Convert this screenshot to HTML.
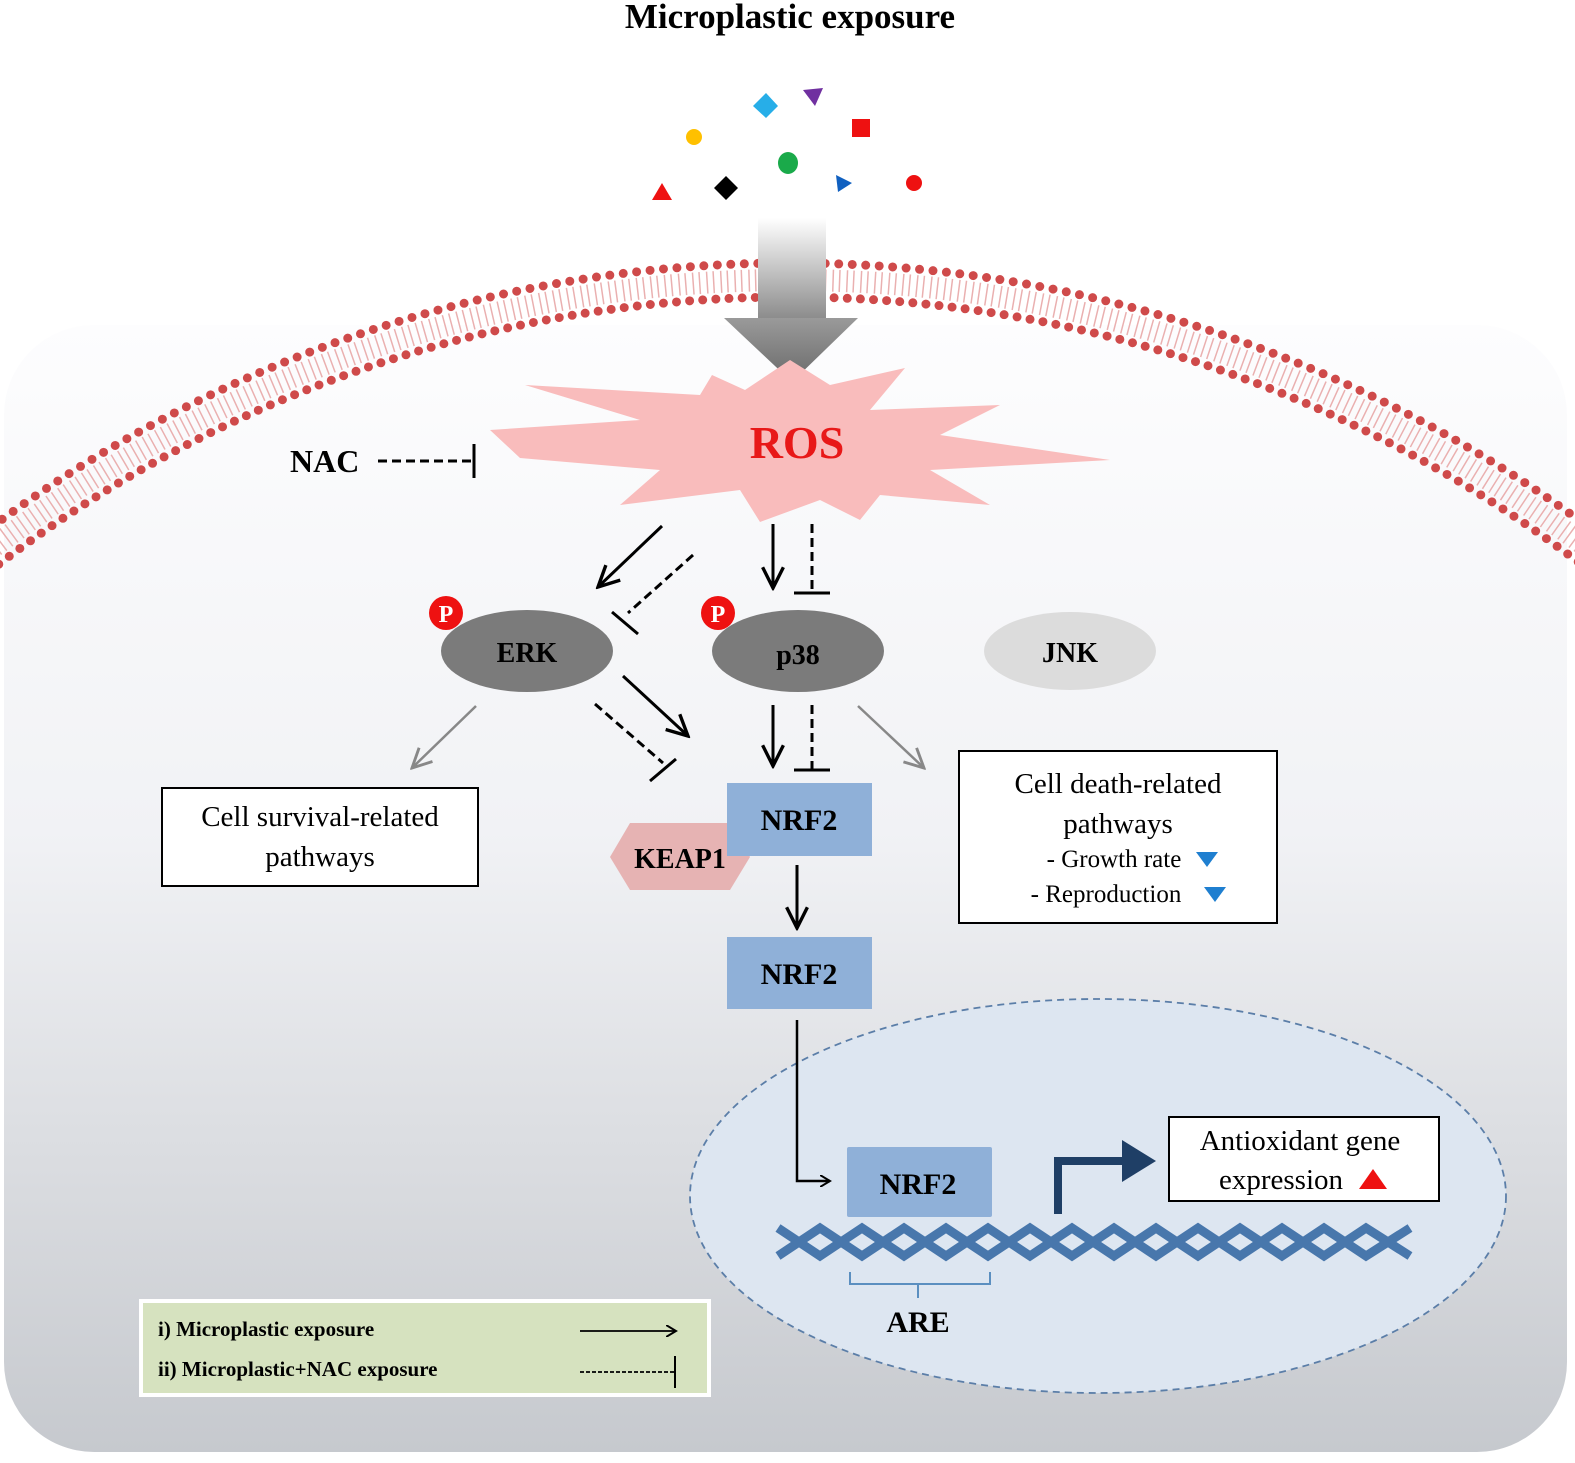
<!DOCTYPE html>
<html><head><meta charset="utf-8"><style>
html,body{margin:0;padding:0;background:#fff;overflow:hidden;width:1575px;height:1463px}
svg{display:block}
text{font-family:"Liberation Serif",serif}
</style></head><body>
<svg width="1575" height="1463" viewBox="0 0 1575 1463" xmlns="http://www.w3.org/2000/svg">
<defs>
<linearGradient id="cell" x1="0" y1="0" x2="0" y2="1">
<stop offset="0" stop-color="#fdfdfe"/><stop offset="0.45" stop-color="#f1f2f5"/><stop offset="1" stop-color="#c6c9ce"/>
</linearGradient>
<linearGradient id="shaft" x1="0" y1="0" x2="0" y2="1">
<stop offset="0" stop-color="#ffffff"/><stop offset="1" stop-color="#8a8a8a"/>
</linearGradient>
<linearGradient id="head" x1="0" y1="0" x2="0" y2="1">
<stop offset="0" stop-color="#9a9a9a"/><stop offset="1" stop-color="#6a6a6a"/>
</linearGradient>
<marker id="ar" viewBox="0 0 12 12" refX="10" refY="6" markerWidth="12" markerHeight="12" markerUnits="userSpaceOnUse" orient="auto">
<path d="M0,0 L10,6 L0,12" fill="none" stroke="#000" stroke-width="2"/>
</marker>
<marker id="arb" viewBox="0 0 20 20" refX="18" refY="10" markerWidth="26" markerHeight="26" markerUnits="userSpaceOnUse" orient="auto">
<path d="M2,2 L18,10 L2,18" fill="none" stroke="#000" stroke-width="2.6"/>
</marker>
<marker id="arg" viewBox="0 0 20 20" refX="18" refY="10" markerWidth="24" markerHeight="24" markerUnits="userSpaceOnUse" orient="auto">
<path d="M2,2 L18,10 L2,18" fill="none" stroke="#888" stroke-width="2.4"/>
</marker>
</defs>

<rect x="4" y="325" width="1563" height="1127" rx="90" fill="url(#cell)"/>

<!-- membrane -->
<g fill="none">
<circle cx="790" cy="1602" r="1322" stroke="#eab0b0" stroke-width="22" stroke-dasharray="1.5 5 1.5 6"/>
<circle cx="790" cy="1602" r="1339" stroke="#cf4a4a" stroke-width="9" stroke-linecap="round" stroke-dasharray="0 13.5"/>
<circle cx="790" cy="1602" r="1305" stroke="#cf4a4a" stroke-width="9" stroke-linecap="round" stroke-dasharray="0 13.15"/>
</g>

<text x="790" y="28" text-anchor="middle" font-size="35" font-weight="bold">Microplastic exposure</text>

<!-- particles -->
<polygon points="766,93 778,106 766,118 753,106" fill="#27aee8"/>
<polygon points="803,90 823,88 815,106" fill="#7030a0"/>
<rect x="852" y="119" width="18" height="18" fill="#ee1111"/>
<circle cx="694" cy="137" r="8" fill="#ffc000"/>
<ellipse cx="788" cy="163" rx="10" ry="11" fill="#1aaa4a"/>
<polygon points="662,183 672,200 652,200" fill="#ee1111"/>
<polygon points="726,176 738,188 726,200 714,188" fill="#000"/>
<polygon points="836,175 852,183 838,192" fill="#1060c0"/>
<circle cx="914" cy="183" r="8" fill="#ee1111"/>

<!-- big arrow -->
<rect x="758" y="218" width="68" height="102" fill="url(#shaft)"/>
<polygon points="724,318 858,318 792,382" fill="url(#head)"/>

<!-- ROS star -->
<polygon fill="#f9bcbc" points="490,430 640,420 525,385 700,395 712,375 745,390 790,360 830,385 905,368 870,410 1000,405 940,435 1110,460 930,470 990,505 880,495 860,520 820,500 760,522 740,490 620,505 660,470 520,458" />
<text x="797" y="458" text-anchor="middle" font-size="46" font-weight="bold" fill="#e81818">ROS</text>

<!-- NAC -->
<text x="290" y="472" font-size="32" font-weight="bold">NAC</text>
<line x1="378" y1="461" x2="472" y2="461" stroke="#000" stroke-width="3" stroke-dasharray="9 5"/>
<line x1="474" y1="444" x2="474" y2="478" stroke="#000" stroke-width="3"/>

<line x1="662" y1="526" x2="598" y2="587" stroke="#000" stroke-width="3" marker-end="url(#arb)"/>
<line x1="693" y1="555" x2="628" y2="613" stroke="#000" stroke-width="3" stroke-dasharray="9 5"/>
<line x1="612" y1="612" x2="638" y2="634" stroke="#000" stroke-width="3"/>
<line x1="773" y1="524" x2="773" y2="588" stroke="#000" stroke-width="3" marker-end="url(#arb)"/>
<line x1="812" y1="524" x2="812" y2="592" stroke="#000" stroke-width="3" stroke-dasharray="9 5"/>
<line x1="794" y1="593" x2="830" y2="593" stroke="#000" stroke-width="3"/>

<ellipse cx="527" cy="651" rx="86" ry="41" fill="#7b7b7b"/>
<text x="527" y="662" text-anchor="middle" font-size="28" font-weight="bold">ERK</text>
<circle cx="446" cy="613" r="17" fill="#ee1111"/>
<text x="446" y="622" text-anchor="middle" font-size="24" font-weight="bold" fill="#fff">P</text>
<ellipse cx="798" cy="651" rx="86" ry="41" fill="#7b7b7b"/>
<text x="798" y="664" text-anchor="middle" font-size="28" font-weight="bold">p38</text>
<circle cx="718" cy="613" r="17" fill="#ee1111"/>
<text x="718" y="622" text-anchor="middle" font-size="24" font-weight="bold" fill="#fff">P</text>
<ellipse cx="1070" cy="651" rx="86" ry="39" fill="#dcdcdc"/>
<text x="1070" y="662" text-anchor="middle" font-size="28" font-weight="bold">JNK</text>

<line x1="623" y1="676" x2="688" y2="736" stroke="#000" stroke-width="3" marker-end="url(#arb)"/>
<line x1="595" y1="704" x2="663" y2="763" stroke="#000" stroke-width="3" stroke-dasharray="9 5"/>
<line x1="650" y1="781" x2="676" y2="759" stroke="#000" stroke-width="3"/>
<line x1="773" y1="705" x2="773" y2="766" stroke="#000" stroke-width="3" marker-end="url(#arb)"/>
<line x1="812" y1="705" x2="812" y2="769" stroke="#000" stroke-width="3" stroke-dasharray="9 5"/>
<line x1="794" y1="770" x2="830" y2="770" stroke="#000" stroke-width="3"/>

<line x1="476" y1="706" x2="412" y2="768" stroke="#888" stroke-width="2.5" marker-end="url(#arg)"/>
<line x1="858" y1="706" x2="924" y2="768" stroke="#888" stroke-width="2.5" marker-end="url(#arg)"/>

<rect x="162" y="788" width="316" height="98" fill="#fff" stroke="#000" stroke-width="2"/>
<text x="320" y="826" text-anchor="middle" font-size="29">Cell survival-related</text>
<text x="320" y="866" text-anchor="middle" font-size="29">pathways</text>

<rect x="959" y="751" width="318" height="172" fill="#fff" stroke="#000" stroke-width="2"/>
<text x="1118" y="793" text-anchor="middle" font-size="29">Cell death-related</text>
<text x="1118" y="833" text-anchor="middle" font-size="29">pathways</text>
<text x="1114" y="867" text-anchor="middle" font-size="25">- Growth rate</text>
<polygon points="1196,852 1218,852 1207,867" fill="#1f7fd0"/>
<text x="1106" y="902" text-anchor="middle" font-size="25">- Reproduction</text>
<polygon points="1204,887 1226,887 1215,902" fill="#1f7fd0"/>

<polygon points="610,857 630,823 730,823 750,857 730,890 630,890" fill="#e6b3b3"/>
<rect x="727" y="783" width="145" height="73" fill="#8fb0d8"/>
<text x="680" y="868" text-anchor="middle" font-size="28" font-weight="bold">KEAP1</text>
<text x="799" y="830" text-anchor="middle" font-size="30" font-weight="bold">NRF2</text>
<line x1="797" y1="865" x2="797" y2="928" stroke="#000" stroke-width="3" marker-end="url(#arb)"/>
<rect x="727" y="937" width="145" height="72" fill="#8fb0d8"/>
<text x="799" y="984" text-anchor="middle" font-size="30" font-weight="bold">NRF2</text>

<ellipse cx="1098" cy="1196" rx="408" ry="197" fill="#dde6f1" stroke="#5b7ea8" stroke-width="1.8" stroke-dasharray="7 5"/>

<polyline points="797,1020 797,1181 830,1181" fill="none" stroke="#000" stroke-width="2.5" marker-end="url(#ar)"/>
<rect x="847" y="1147" width="145" height="70" rx="2" fill="#8fb0d8"/>
<text x="918" y="1194" text-anchor="middle" font-size="30" font-weight="bold">NRF2</text>

<!-- DNA -->
<g fill="none" stroke="#2f64a0" stroke-width="9" opacity="0.85">
<path d="M778,1228 L820,1256 L862,1228 L904,1256 L946,1228 L988,1256 L1030,1228 L1072,1256 L1114,1228 L1156,1256 L1198,1228 L1240,1256 L1282,1228 L1324,1256 L1366,1228 L1410,1256"/>
<path d="M778,1256 L820,1228 L862,1256 L904,1228 L946,1256 L988,1228 L1030,1256 L1072,1228 L1114,1256 L1156,1228 L1198,1256 L1240,1228 L1282,1256 L1324,1228 L1366,1256 L1410,1228"/>
</g>
<path d="M850,1272 v12 h68 v14 M918,1284 h72 v-12" fill="none" stroke="#5b8fc0" stroke-width="2"/>
<text x="918" y="1332" text-anchor="middle" font-size="30" font-weight="bold">ARE</text>

<path d="M1058,1214 V1161 H1125" fill="none" stroke="#1f3f66" stroke-width="8"/>
<polygon points="1122,1140 1156,1161 1122,1182" fill="#1f3f66"/>

<rect x="1169" y="1117" width="270" height="84" fill="#fff" stroke="#000" stroke-width="2"/>
<text x="1300" y="1150" text-anchor="middle" font-size="29">Antioxidant  gene</text>
<text x="1281" y="1189" text-anchor="middle" font-size="29">expression</text>
<polygon points="1373,1169 1387,1189 1359,1189" fill="#ee1111"/>

<rect x="141" y="1301" width="568" height="94" fill="#d6e2bf" stroke="#fff" stroke-width="4"/>
<text x="158" y="1336" font-size="21" font-weight="bold">i)  Microplastic exposure</text>
<text x="158" y="1376" font-size="21" font-weight="bold">ii) Microplastic+NAC exposure</text>
<line x1="580" y1="1331" x2="676" y2="1331" stroke="#000" stroke-width="1.8" marker-end="url(#ar)"/>
<line x1="580" y1="1372" x2="674" y2="1372" stroke="#000" stroke-width="1.8" stroke-dasharray="4 2"/>
<line x1="675" y1="1356" x2="675" y2="1388" stroke="#000" stroke-width="2"/>
</svg>
</body></html>
